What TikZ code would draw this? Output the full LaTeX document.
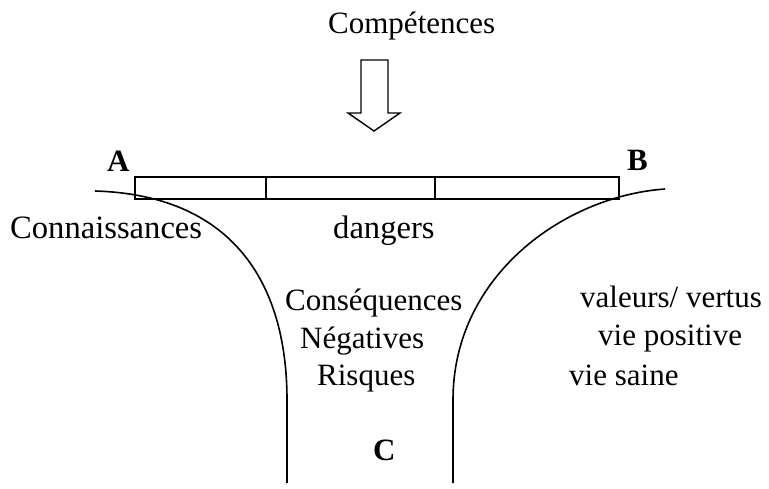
\documentclass[tikz,border=0pt]{standalone}
\usepackage{fontspec}
\setmainfont{Liberation Serif}
\begin{document}
\begin{tikzpicture}[x=1pt,y=-1pt,
  lbl/.style={anchor=base west,inner sep=0pt,font=\fontsize{31}{36}\selectfont},
  biglbl/.style={lbl,font=\fontsize{32.6}{38}\selectfont},
  blbl/.style={lbl,font=\fontsize{31}{36}\selectfont\bfseries},
  seg/.style={draw,line width=1.6pt,rectangle,inner sep=0pt,anchor=north west},
  curve/.style={line width=1.6pt},
]
\useasboundingbox (0,0) rectangle (769,488);
% title and arrow
\node[lbl] (comp) at (328,33) {Compétences};
\draw[line width=1.4pt] (361,60) -- (388,60) -- (388,113) -- (400,113) -- (374,131)
  -- (348,113) -- (361,113) -- cycle;
% bar
\node[seg,minimum width=131pt,minimum height=22pt] (b1) at (134,176) {};
\node[seg,minimum width=169pt,minimum height=22pt] (b2) at (265,176) {};
\node[seg,minimum width=184pt,minimum height=22pt] (b3) at (434,176) {};
\node[blbl] (A) at (107,171) {A};
\node[blbl] (B) at (627,170) {B};
% curves
\coordinate (l0) at (95,191);
\coordinate (l1) at (287,400);
\coordinate (l2) at (287,483);
\coordinate (r0) at (665,189);
\coordinate (r1) at (453,400);
\coordinate (r2) at (453,483);
\draw[curve] (l0) .. controls (230,195) and (287,280) .. (l1) -- (l2);
\draw[curve] (r0) .. controls (565,196) and (453,275) .. (r1) -- (r2);
% texts
\node[biglbl] (conn) at (10,238) {Connaissances};
\node[biglbl] (dang) at (333,238) {dangers};
\node[lbl] (cons) at (285,310) {Conséquences};
\node[lbl] (neg) at (300,348) {Négatives};
\node[lbl] (risq) at (317,385) {Risques};
\node[blbl] (C) at (373,460) {C};
\node[lbl] (val) at (580,307) {valeurs/ vertus};
\node[lbl] (viep) at (598,345) {vie positive};
\node[lbl] (vies) at (569,385) {vie saine};
\end{tikzpicture}
\end{document}
